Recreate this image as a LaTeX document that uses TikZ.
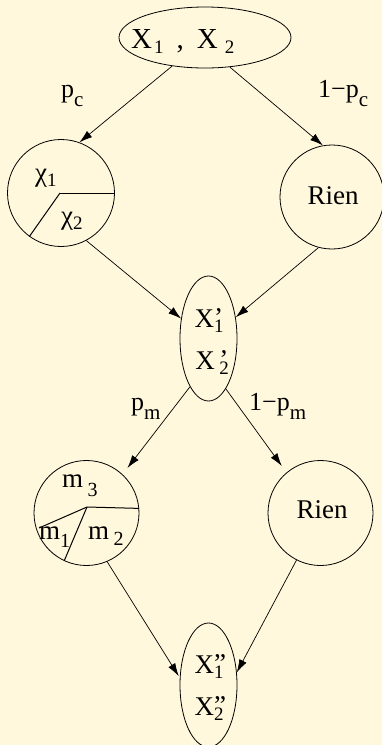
\documentclass[tikz,border=0pt]{standalone}
\usepackage{fontspec}
\setmainfont{Liberation Serif}
\usetikzlibrary{shapes.geometric,arrows.meta}
\definecolor{bgc}{HTML}{FFF8DC}
\newcommand\sbX[1]{\raisebox{-5pt}{\fontsize{19}{19}\selectfont #1}}
\newcommand\sbL[1]{\raisebox{-9pt}{\fontsize{21}{21}\selectfont #1}}
\newcommand\prm[1]{\rlap{\raisebox{1pt}{#1}}}
\begin{document}
\begin{tikzpicture}[x=1pt,y=-1pt,
  every node/.style={font=\fontsize{27}{29}\selectfont, inner sep=0pt, anchor=base},
  oval/.style={draw, ellipse, line width=0.8pt, anchor=center},
  rond/.style={draw, circle, line width=0.8pt, anchor=center},
  lab/.style={font=\fontsize{26}{28}\selectfont},
  arr/.style={-{Latex[length=13pt,width=8pt]}, line width=0.7pt},
  part/.style={line width=1pt}]
\fill[bgc] (0,0) rectangle (382,745);
\useasboundingbox (0,0) rectangle (382,745);
% shapes
\node[oval, minimum width=172pt, minimum height=61pt] (top) at (205,37.5) {};
\node[rond, minimum size=107pt] (chi) at (61,193) {};
\node[rond, minimum size=104pt] (rien1) at (332,197) {};
\node[oval, minimum width=57pt, minimum height=125pt] (mid) at (208.5,338.5) {};
\node[rond, minimum size=105pt] (mc) at (86.5,513) {};
\node[rond, minimum size=105pt] (rien2) at (320.5,513) {};
\node[oval, minimum width=57pt, minimum height=124pt] (bot) at (208.5,685) {};
% texts
\node[anchor=base west, font=\fontsize{29}{31}\selectfont] (toptxt) at (131,48) {X\hspace{2pt}\sbX{1}\hspace{13pt},\hspace{13pt}X\hspace{7pt}\sbX{2}};
\node (rientxt1) at (333,204) {Rien};
\node (rientxt2) at (322,518) {Rien};
\node (mid1) at (209,327) {X\prm{’}\sbX{1}};
\node (mid2) at (212,369) {X\,\prm{’}\sbX{2}};
\node (bot1) at (209,673) {X\prm{”}\sbX{1}};
\node (bot2) at (209,715) {X\prm{”}\sbX{2}};
% chi partitions
\coordinate (c0) at (60,193);
\draw[part] (c0) -- (chi.east |- c0);
\draw[part] (c0) -- (chi.-126);
\node[anchor=base west] (chi1) at (35,181) {χ\sbX{1}};
\node[anchor=base west] (chi2) at (61,224) {χ\sbX{2}};
% m partitions
\coordinate (m0) at (87,507);
\coordinate (m0l) at (39,528);
\draw[part] (m0) -- (mc.5);
\draw[part] (m0) -- (m0l);
\draw[part] (m0) -- (mc.-115);
\node[anchor=base west] (m3) at (62,487) {m\,\raisebox{-9pt}{\fontsize{20}{20}\selectfont 3}};
\node[anchor=base west] (m1) at (39,539) {m\raisebox{-8pt}{\fontsize{20}{20}\selectfont 1}};
\node[anchor=base west] (m2) at (88,539) {m\,\raisebox{-6pt}{\fontsize{20}{20}\selectfont 2}};
% arrows
\draw[arr] (top.-139) -- (chi.70);
\draw[arr] (top.-50) -- (rien1.100);
\draw[arr] (chi.-62) -- (mid.144);
\draw[arr] (rien1.-105) -- (mid.38);
\draw[arr, shorten >=8pt] (mid.-111) -- (mc.47);
\draw[arr, shorten >=8pt] (mid.-71) -- (rien2.130);
\draw[arr, shorten >=2pt] (mc.-67) -- (bot.166);
\draw[arr] (rien2.-117) -- (bot.24);
% probabilities
\node[lab, anchor=base west] (pc) at (61,97) {p\sbL{c}};
\node[lab, anchor=base west] (qc) at (318,97) {1−p\sbL{c}};
\node[lab, anchor=base west] (pm) at (131,410) {p\sbL{m}};
\node[lab, anchor=base west] (qm) at (249,410) {1−p\sbL{m}};
\end{tikzpicture}
\end{document}
